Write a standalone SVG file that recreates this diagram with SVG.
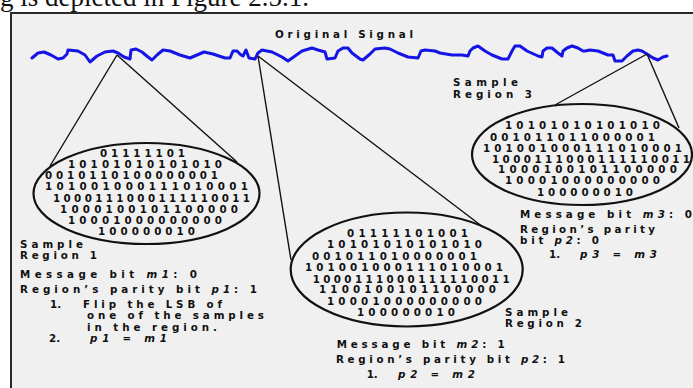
<svg xmlns="http://www.w3.org/2000/svg" width="693" height="388" viewBox="0 0 693 388">
<style>
.t{font-family:"DejaVu Sans",Verdana,sans-serif;font-weight:bold;font-size:10.3px;fill:#111}
.i{font-style:italic}
.ell{fill:none;stroke:#111;stroke-width:2.2}
.con{stroke:#111;stroke-width:1.4;fill:none}
</style>
<rect x="0" y="0" width="693" height="388" fill="#fff"/>
<text x="0" y="6" font-family="Liberation Serif,serif" font-size="27" fill="#111">g is depicted in Figure 2.5.1.</text>
<g id="frame"><rect x="11" y="13" width="700" height="400" fill="#f0f0f0" stroke="#2a2a2a" stroke-width="2"/></g>
<g id="signal">
<text class="t" x="275" y="37.5" textLength="138" lengthAdjust="spacing">Original Signal</text>
<path fill="none" stroke="#1414e6" stroke-width="3" stroke-linejoin="round" stroke-linecap="round" d="M32,58 L38,53 L44,52 L51,55 L58,59 L63,58 L67,54 L68,50 L78,51 L85,55 L90,62 L97,56 L105,52 L113,51 L118,53 L124,57 L130,59 L131,50 L136,49 L142,52 L148,57 L152,60 L157,55 L163,50 L170,51 L180,55 L190,58 L197,55 L204,52 L213,54 L225,58 L230,58 L233,51 L237,51 L241,55 L243,56 L246,50 L249,58 L255,59 L258,53 L262,50 L272,52 L282,57 L288,61 L295,56 L302,51 L312,48 L318,50 L325,52 L327,59 L335,58 L338,51 L343,48 L348,48 L352,53 L360,59 L363,60 L370,54 L375,49 L385,48 L390,49 L398,53 L408,57 L418,58 L421,51 L425,50 L435,51 L440,53 L452,55 L462,55 L468,56 L470,51 L473,48 L478,46 L485,51 L492,55 L502,59 L508,59 L512,51 L515,46 L520,46 L527,51 L538,56 L542,57 L543,51 L547,48 L552,48 L558,53 L562,56 L563,51 L567,48 L572,46 L578,48 L583,51 L585,51 L590,50 L598,51 L608,55 L613,55 L615,61 L622,61 L627,56 L633,51 L638,50 L642,51 L647,54 L653,58 L658,60 L663,57 L667,56"/>
</g>
<g id="connectors">
<line class="con" x1="117" y1="55" x2="50" y2="166"/>
<line class="con" x1="117" y1="55" x2="237" y2="162"/>
<line class="con" x1="258" y1="56" x2="291" y2="260"/>
<line class="con" x1="258" y1="56" x2="483" y2="227"/>
<line class="con" x1="647" y1="54" x2="555" y2="105"/>
<line class="con" x1="647" y1="54" x2="679" y2="128"/>
</g>
<g id="region1">
<ellipse class="ell" cx="146.5" cy="193.5" rx="113" ry="50.5"/>
<text class="t" x="100" y="157" textLength="85" lengthAdjust="spacing">01111101</text>
<text class="t" x="68" y="168" textLength="154" lengthAdjust="spacing">10101010101010</text>
<text class="t" x="45" y="179" textLength="173" lengthAdjust="spacing">0010110100000001</text>
<text class="t" x="45" y="190" textLength="203" lengthAdjust="spacing">101001000111010001</text>
<text class="t" x="53" y="201.5" textLength="197" lengthAdjust="spacing">1000111000111110011</text>
<text class="t" x="60" y="213" textLength="178" lengthAdjust="spacing">1000100101100000</text>
<text class="t" x="68" y="224" textLength="154" lengthAdjust="spacing">10001000000000</text>
<text class="t" x="98" y="234.5" textLength="97" lengthAdjust="spacing">100000010</text>
<text class="t" x="20" y="248" textLength="63" lengthAdjust="spacing">Sample</text>
<text class="t" x="20" y="259" textLength="77" lengthAdjust="spacing">Region 1</text>
<text class="t" x="20" y="278" textLength="177" lengthAdjust="spacing">Message bit <tspan class="i">m1</tspan>:  0</text>
<text class="t" x="20" y="293" textLength="237" lengthAdjust="spacing">Region’s parity bit <tspan class="i">p1</tspan>:  1</text>
<text class="t" x="50" y="307.5">1.</text>
<text class="t" x="83" y="307.5" textLength="139" lengthAdjust="spacing">Flip the LSB of</text>
<text class="t" x="87" y="319" textLength="177" lengthAdjust="spacing">one of the samples</text>
<text class="t" x="87" y="330.5" textLength="130" lengthAdjust="spacing">in the region.</text>
<text class="t" x="49" y="342">2.</text>
<text class="t i" x="90" y="342" textLength="77" lengthAdjust="spacing">p1 = m1</text>
</g>
<g id="region2">
<ellipse class="ell" cx="406.7" cy="269.5" rx="116" ry="57"/>
<text class="t" x="347" y="236.5" textLength="121" lengthAdjust="spacing">01111101001</text>
<text class="t" x="327" y="248" textLength="155" lengthAdjust="spacing">10101010101010</text>
<text class="t" x="312" y="259.8" textLength="165" lengthAdjust="spacing">001011010000001</text>
<text class="t" x="305" y="271" textLength="198" lengthAdjust="spacing">101001000111010001</text>
<text class="t" x="312.7" y="282.8" textLength="197" lengthAdjust="spacing">1000111000111110011</text>
<text class="t" x="319" y="293" textLength="177" lengthAdjust="spacing">1100100101100000</text>
<text class="t" x="327" y="304.5" textLength="155" lengthAdjust="spacing">10001000000000</text>
<text class="t" x="357" y="315.5" textLength="98" lengthAdjust="spacing">100000010</text>
<text class="t" x="505" y="315.5" textLength="63" lengthAdjust="spacing">Sample</text>
<text class="t" x="505" y="326.5" textLength="77" lengthAdjust="spacing">Region 2</text>
<text class="t" x="336.7" y="348" textLength="168" lengthAdjust="spacing">Message bit <tspan class="i">m2</tspan>: 1</text>
<text class="t" x="336" y="362.5" textLength="229" lengthAdjust="spacing">Region’s parity bit <tspan class="i">p2</tspan>: 1</text>
<text class="t" x="366.7" y="377.5">1.</text>
<text class="t i" x="398" y="377.5" textLength="77" lengthAdjust="spacing">p2 = m2</text>
</g>
<g id="region3">
<ellipse class="ell" cx="582" cy="154.5" rx="110" ry="50.5"/>
<text class="t" x="505" y="129" textLength="155" lengthAdjust="spacing">10101010101010</text>
<text class="t" x="490" y="140.5" textLength="165" lengthAdjust="spacing">001011011000001</text>
<text class="t" x="483" y="151.5" textLength="199" lengthAdjust="spacing">101001000111010001</text>
<text class="t" x="492" y="163" textLength="198" lengthAdjust="spacing">1000111000111110011</text>
<text class="t" x="498" y="173.3" textLength="179" lengthAdjust="spacing">1000100101100000</text>
<text class="t" x="505" y="184" textLength="155" lengthAdjust="spacing">10001000000000</text>
<text class="t" x="537" y="195.5" textLength="96" lengthAdjust="spacing">100000010</text>
<text class="t" x="453" y="85.5" textLength="65" lengthAdjust="spacing">Sample</text>
<text class="t" x="453" y="97.5" textLength="79" lengthAdjust="spacing">Region 3</text>
<text class="t" x="520" y="218" textLength="172" lengthAdjust="spacing">Message bit <tspan class="i">m3</tspan>: 0</text>
<text class="t" x="520" y="233" textLength="135" lengthAdjust="spacing">Region’s parity</text>
<text class="t" x="520" y="244" textLength="79" lengthAdjust="spacing">bit <tspan class="i">p2</tspan>: 0</text>
<text class="t" x="549" y="257.5">1.</text>
<text class="t i" x="580" y="257.5" textLength="77" lengthAdjust="spacing">p3 = m3</text>
</g>
</svg>
